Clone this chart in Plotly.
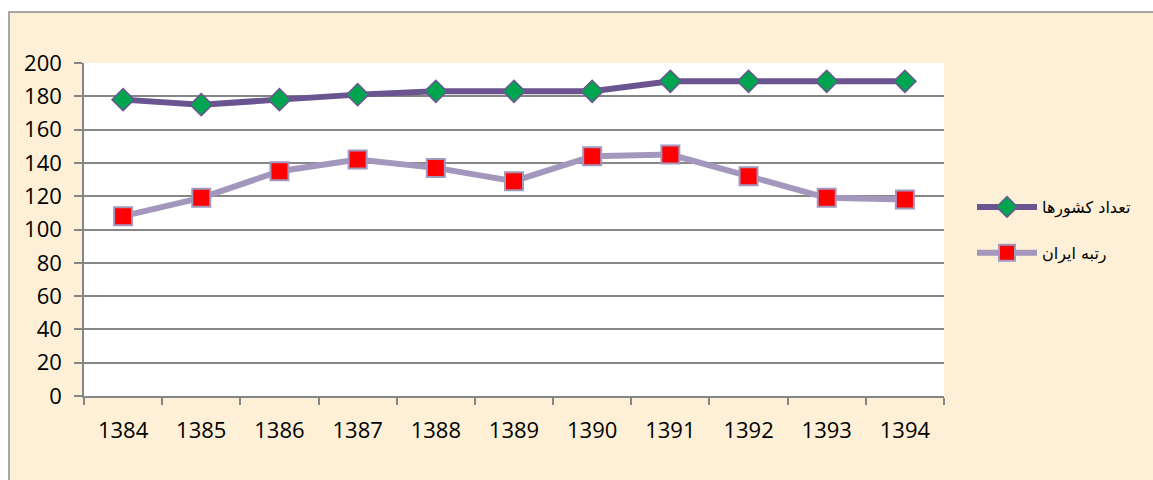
import plotly.graph_objects as go

years = ["1384", "1385", "1386", "1387", "1388", "1389", "1390", "1391", "1392", "1393", "1394"]
countries = [178, 175, 178, 181, 183, 183, 183, 189, 189, 189, 189]
iran_rank = [108, 119, 135, 142, 137, 129, 144, 145, 132, 119, 118]
name_countries = "تعداد کشورها"
name_rank = "رتبه ایران"
y_ticks = [0, 20, 40, 60, 80, 100, 120, 140, 160, 180, 200]

L, R, T, B = 84, 944, 63, 396
W, H = 1153, 480
pw, ph = R - L, B - T

fig = go.Figure()
fig.add_trace(go.Scatter(
    x=years, y=countries, name=name_countries, mode="lines+markers",
    line=dict(color="#6B5590", width=6),
    marker=dict(symbol="diamond", size=17, color="#00A550",
                line=dict(color="#6B5590", width=1.5)),
    legendgroup="a",
))
fig.add_trace(go.Scatter(
    x=years, y=iran_rank, name=name_rank, mode="lines+markers",
    line=dict(color="#A497BE", width=6),
    marker=dict(symbol="square", size=18, color="#FF0000",
                line=dict(color="#A497BE", width=2)),
    legendgroup="b",
))

def px_x(p):
    return (p - L) / pw

def px_y(p):
    return (B - p) / ph

fig.add_shape(type="rect", xref="paper", yref="paper",
              x0=px_x(9), x1=px_x(1170), y0=px_y(500), y1=px_y(12),
              fillcolor="#FDF0D6", line=dict(color="#8A8A8A", width=1.5),
              layer="below")
fig.add_shape(type="rect", xref="paper", yref="paper",
              x0=0, x1=1, y0=0, y1=1,
              fillcolor="white", line=dict(width=0),
              layer="below")

fig.update_layout(
    width=W, height=H,
    margin=dict(l=L, r=W - R, t=T, b=H - B, autoexpand=False),
    paper_bgcolor="white",
    plot_bgcolor="white",
    showlegend=True,
    legend=dict(x=px_x(972), y=px_y(190), xanchor="left", yanchor="top",
                bgcolor="rgba(0,0,0,0)", font=dict(family="DejaVu Sans", size=16, color="black"),
                itemwidth=60, tracegroupgap=22, traceorder="grouped"),
    font=dict(family="Open Sans", color="black"),
)
fig.update_xaxes(
    type="category", range=[-0.5, 10.5], showgrid=False,
    showline=True, linecolor="#868686", linewidth=1.5,
    ticks="outside", tickson="boundaries", ticklen=7, tickcolor="#868686", tickwidth=1.5,
    ticklabelstandoff=14, automargin=False,
    tickfont=dict(family="Open Sans", size=22, color="black"),
)
fig.update_yaxes(
    range=[0, 200], tickvals=y_ticks, showgrid=True, gridcolor="#868686", gridwidth=1.5,
    showline=True, linecolor="#868686", linewidth=1.5, zeroline=False,
    ticks="outside", ticklen=8, tickcolor="#868686", tickwidth=1.5,
    ticklabelstandoff=8, automargin=False,
    tickfont=dict(family="Open Sans", size=22, color="black"),
)

fig.write_html("out.html", config={"displayModeBar": False},
               post_script="document.body.style.margin='0px';")
